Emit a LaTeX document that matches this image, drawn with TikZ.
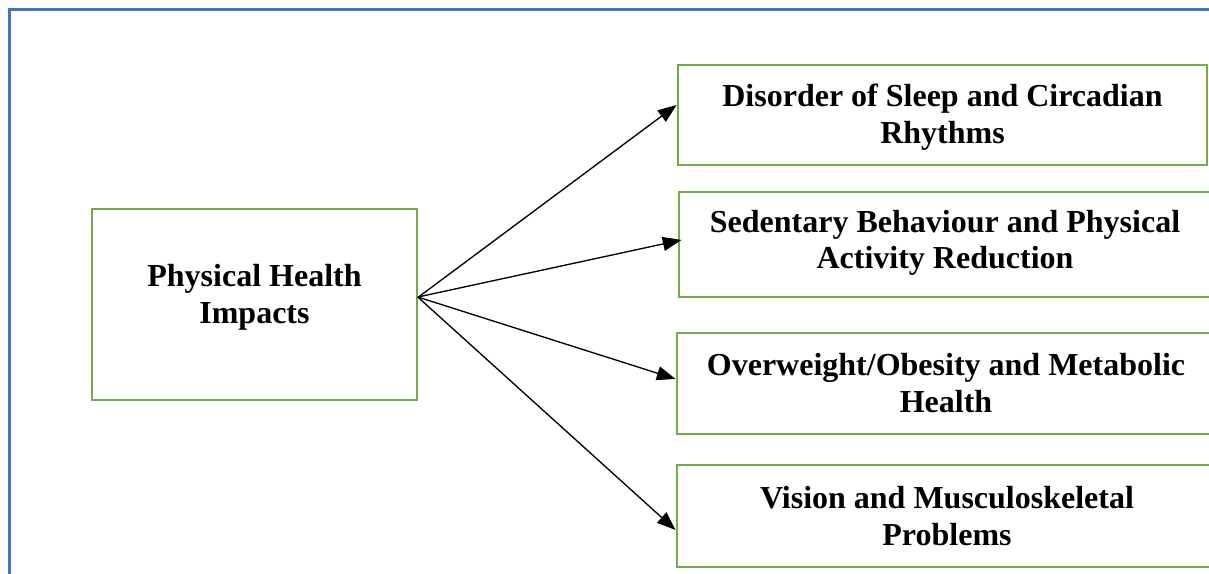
\documentclass[tikz,border=0pt]{standalone}
\usepackage{fontspec}
\setmainfont{Liberation Serif}
\usetikzlibrary{arrows.meta,calc}
\definecolor{frameblue}{HTML}{4472C4}
\definecolor{boxgreen}{HTML}{70AD47}
\begin{document}
\begin{tikzpicture}[x=0.75pt,y=-0.75pt,
  box/.style={draw=boxgreen,line width=2.2pt,rectangle,inner sep=0pt},
  lbl/.style={align=center,font=\fontsize{24}{27.5}\selectfont\bfseries,inner sep=0pt},
  arr/.style={draw=black,line width=1pt,-{Triangle[length=14pt,width=10.5pt]}}]
\useasboundingbox (0,0) rectangle (1209,574);
\clip (0,0) rectangle (1209,574);
\draw[frameblue,line width=2.5pt] (9.5,580) -- (9.5,9.5) -- (1215,9.5);
% boxes
\node[box,minimum width=325*0.75pt,minimum height=191*0.75pt] (src) at (254.5,304.5) {};
\node[box,minimum width=529*0.75pt,minimum height=100*0.75pt] (b1) at (942.5,115) {};
\node[box,minimum width=532*0.75pt,minimum height=105*0.75pt] (b2) at (945,244.5) {};
\node[box,minimum width=538*0.75pt,minimum height=101*0.75pt] (b3) at (946,383.5) {};
\node[box,minimum width=540*0.75pt,minimum height=102*0.75pt] (b4) at (947,516) {};
% texts
\node[lbl] (tsrc) at (254.5,297) {Physical Health\\Impacts};
\node[lbl] (t1) at (942.5,117) {Disorder of Sleep and Circadian\\Rhythms};
\node[lbl] (t2) at (945,243) {Sedentary Behaviour and Physical\\Activity Reduction};
\node[lbl] (t3) at (946,383) {Overweight/Obesity and Metabolic\\Health};
\node[lbl] (t4) at (947,516) {Vision and Musculoskeletal\\Problems};
% arrows
\coordinate (o) at ([yshift=5.6pt]src.east);
\draw[arr] (o) -- ([yshift=7.5pt]b1.west);
\draw[arr] ([xshift=-0.5pt]o) -- ([yshift=3.4pt,xshift=3pt]b2.west);
\draw[arr] ([xshift=-0.5pt]o) -- ([yshift=3.4pt]b3.west);
\draw[arr] ([xshift=-0.5pt]o) -- ([yshift=-10.5pt]b4.west);
\end{tikzpicture}
\end{document}
